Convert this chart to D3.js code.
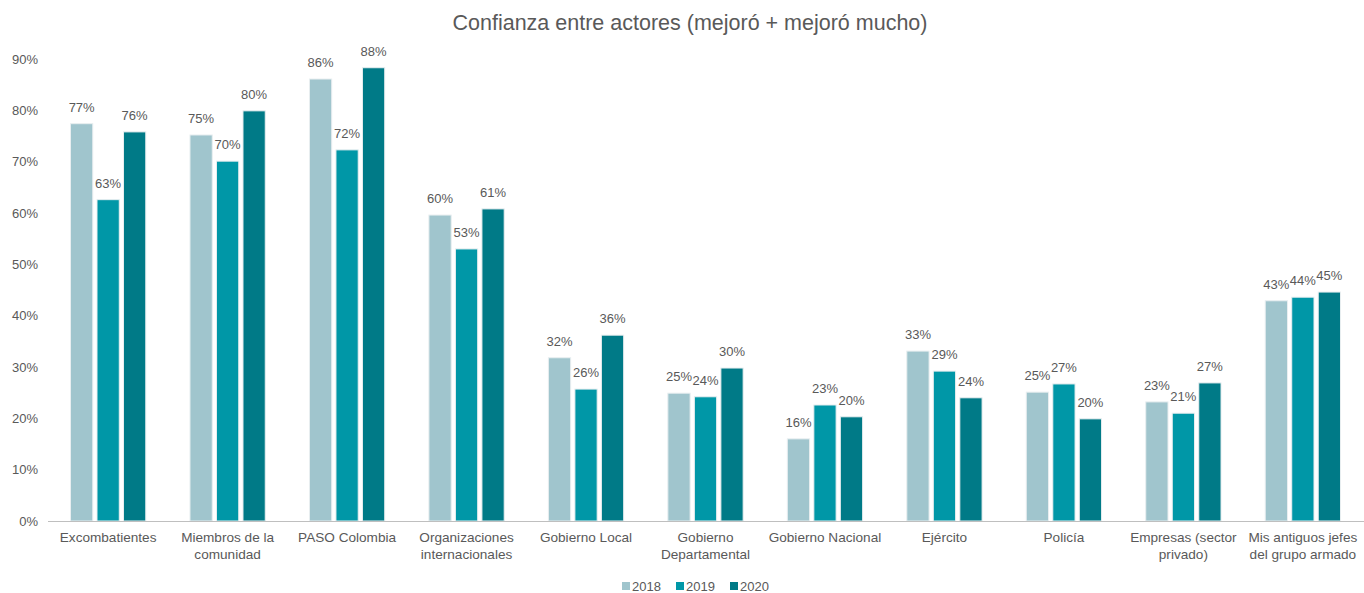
<!DOCTYPE html>
<html><head><meta charset="utf-8">
<script src="https://cdn.jsdelivr.net/npm/d3@7"></script>
<style>body{margin:0;background:#fff;font-family:"Liberation Sans",Arial,sans-serif;}</style>
</head><body><svg id="c" width="1364" height="593"></svg>
<script>
const categories = [["Excombatientes"],["Miembros de la","comunidad"],["PASO Colombia"],["Organizaciones","internacionales"],["Gobierno Local"],["Gobierno","Departamental"],["Gobierno Nacional"],["Ejército"],["Policía"],["Empresas (sector","privado)"],["Mis antiguos jefes","del grupo armado"]];
const seriesNames = ["2018","2019","2020"];
const v2018 = [77.4,75.2,86.1,59.6,31.8,24.9,16.0,33.1,25.1,23.2,42.9];
const v2019 = [62.6,70.1,72.3,53.0,25.7,24.2,22.6,29.2,26.7,21.0,43.6];
const v2020 = [75.8,79.9,88.3,60.8,36.2,29.8,20.3,24.0,19.9,26.9,44.6];
const yTicks = [0,10,20,30,40,50,60,70,80,90];
const colors = ["#A0C5CD","#0097A7","#007A87"];
const values = [v2018,v2019,v2020];

(function(){
const svg = d3.select("#c");
const pl=49, pr=1362, pt=59, pb=521;
const x0 = d3.scaleBand().domain(d3.range(categories.length)).range([pl,pr]).paddingInner(0.37).paddingOuter(0.18);
const x1 = d3.scaleBand().domain(d3.range(3)).range([0,x0.bandwidth()]).paddingInner(0.16);
const y = d3.scaleLinear().domain([0,90]).range([pb,pt]);
const txt="#595959";

svg.append("text").attr("x",690).attr("y",30).attr("text-anchor","middle").attr("font-size",21.5).attr("fill",txt).text("Confianza entre actores (mejoró + mejoró mucho)");

const yAxis = svg.append("g").attr("transform",`translate(${pl},0)`).call(d3.axisLeft(y).tickValues(yTicks).tickFormat(d=>d+"%").tickSize(0).tickPadding(11));
yAxis.select(".domain").remove();
yAxis.selectAll("text").attr("font-size",13).attr("fill",txt).attr("font-family","Liberation Sans, Arial, sans-serif");

categories.forEach((c,i)=>{
  const g = svg.append("g").attr("transform",`translate(${x0(i)},0)`);
  values.forEach((vals,s)=>{
    const v=vals[i];
    g.append("rect").attr("x",x1(s)).attr("y",y(v)).attr("width",x1.bandwidth()).attr("height",y(0)-y(v))
      .attr("fill",colors[s]).attr("stroke","#e8eef0").attr("stroke-width",1);
    g.append("text").attr("x",x1(s)+x1.bandwidth()/2).attr("y",y(v)-12).attr("text-anchor","middle")
      .attr("font-size",13).attr("fill",txt).text(Math.round(v)+"%");
  });
  const t = svg.append("text").attr("x",x0(i)+x0.bandwidth()/2).attr("y",542).attr("text-anchor","middle").attr("font-size",13.6).attr("fill",txt);
  c.forEach((line,k)=>t.append("tspan").attr("x",x0(i)+x0.bandwidth()/2).attr("dy",k?17:0).text(line));
});

svg.append("line").attr("x1",pl-1).attr("x2",1364).attr("y1",pb+0.5).attr("y2",pb+0.5).attr("stroke","#bfbfbf").attr("stroke-width",1);

const leg = svg.append("g");
const legX=[622,676,730];
seriesNames.forEach((n,s)=>{
  leg.append("rect").attr("x",legX[s]).attr("y",582).attr("width",8).attr("height",8).attr("fill",colors[s]);
  leg.append("text").attr("x",legX[s]+10).attr("y",591).attr("font-size",13).attr("fill",txt).text(n);
});
})();
</script></body></html>
